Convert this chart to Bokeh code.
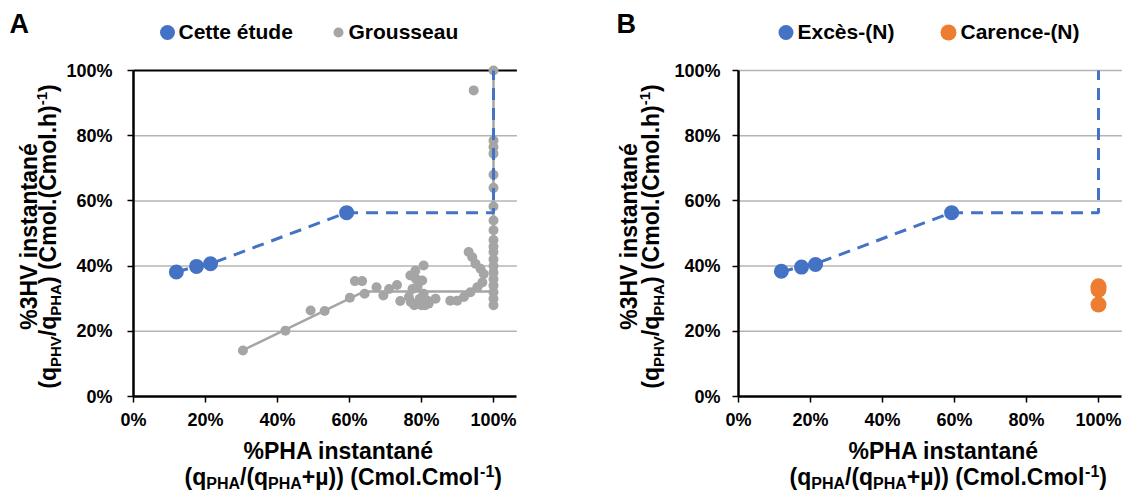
import math
from bokeh.plotting import figure
from bokeh.models import Label, FixedTicker, NumeralTickFormatter, Range1d
from bokeh.layouts import row
from bokeh.embed import file_html
from bokeh.resources import INLINE

FONT = "Liberation Sans"
BLUE = "#4472C4"
ORANGE = "#ED7D31"
GREY = "#A5A5A5"
GRID = "#B4B4B4"

# ---------------- data ----------------
ticks = [0.0, 0.2, 0.4, 0.6, 0.8, 1.0]

etude_x = [0.119, 0.175, 0.214, 0.592]
etude_y = [0.382, 0.399, 0.407, 0.564]

model_x = [0.119, 0.175, 0.214, 0.592, 1.0, 1.0]
model_y = [0.382, 0.399, 0.407, 0.564, 0.564, 1.0]

grous_model_x = [0.30, 0.64, 1.0, 1.0]
grous_model_y = [0.14, 0.322, 0.322, 1.0]

grous_x = [0.304, 0.422, 0.492, 0.531, 0.601, 0.615, 0.635, 0.642, 0.675, 0.694,
           0.710, 0.732, 0.741,
           0.769, 0.783, 0.806, 0.789, 0.802, 0.806, 0.816, 0.839, 0.770, 0.780,
           0.790, 0.800, 0.810, 0.820, 0.765, 0.795, 0.775, 0.785,
           0.880, 0.899, 0.918, 0.936, 0.955, 0.969, 0.931, 0.941, 0.950, 0.964,
           0.973, 0.945,
           1.0, 1.0, 1.0, 1.0, 1.0, 1.0, 1.0, 1.0, 1.0, 1.0,
           1.0, 1.0, 1.0, 1.0, 1.0, 1.0, 1.0, 1.0, 1.0, 1.0]
grous_y = [0.141, 0.202, 0.264, 0.262, 0.303, 0.354, 0.354, 0.315, 0.335, 0.310,
           0.330, 0.342, 0.293,
           0.371, 0.386, 0.402, 0.337, 0.356, 0.315, 0.294, 0.300, 0.290, 0.280,
           0.285, 0.280, 0.280, 0.285, 0.305, 0.300, 0.330, 0.360,
           0.294, 0.294, 0.305, 0.320, 0.335, 0.350, 0.443, 0.427, 0.407, 0.392,
           0.376, 0.939,
           1.0, 0.785, 0.765, 0.745, 0.680, 0.640, 0.583, 0.540, 0.510, 0.480,
           0.460, 0.443, 0.420, 0.400, 0.380, 0.360, 0.340, 0.320, 0.300, 0.280]

exces_x = [0.119, 0.175, 0.214, 0.592]
exces_y = [0.384, 0.397, 0.405, 0.564]

carence_x = [1.0, 1.0, 1.0]
carence_y = [0.338, 0.328, 0.282]

# ---------------- geometry helpers ----------------
PX = 360.0   # px per unit x
PY = 326.0   # px per unit y
BOTTOM = 396.0
H = 494
AREA_END = 1.065   # right end of plot area (beyond the 100% tick)
BLC = 0.36         # baseline correction (fraction of font size)

W = {' ': .278, '%': .889, '(': .333, ')': .333, 'q': .611, '/': .278, '+': .584,
     'µ': .611, 'C': .722, 'm': .889, 'o': .611, 'l': .278, '.': .278, '-': .333,
     '1': .556, 'P': .667, 'H': .722, 'A': .722, 'V': .667, 'h': .611, '3': .556,
     'i': .278, 'n': .611, 's': .556, 't': .333, 'a': .556, 'é': .556}


def tw(s, size):
    return sum(W.get(c, .556) for c in s) * size


XT1 = "%PHA instantané"
XT2 = [("(q", "n"), ("PHA", "sub"), ("/(q", "n"), ("PHA", "sub"),
       ("+µ)) (Cmol.Cmol", "n"), ("-1", "sup"), (")", "n")]
YT1 = "%3HV instantané"
YT2 = [("(q", "n"), ("PHV", "sub"), ("/q", "n"), ("PHA", "sub"),
       (") (Cmol.(Cmol.h)", "n"), ("-1", "sup"), (")", "n")]

N = 23
SUB, SUP = 4, 9


def lab(p, FL, px, py, text, size, angle=0.0, baseline="alphabetic", color="black"):
    if baseline == "alphabetic":
        if angle == 0.0:
            py = py - BLC * size
        else:
            px = px - BLC * size
    p.add_layout(Label(x=(px - FL) / PX, y=(BOTTOM - py) / PY, text=text,
                       text_font=FONT, text_font_size=f"{size}px", text_font_style="bold",
                       text_color=color, text_align="left", text_baseline=baseline,
                       angle=angle))


def hruns(p, FL, runs, x0, base, S):
    x = x0
    for t, k in runs:
        size = N if k == "n" else S
        b = base + (SUB if k == "sub" else (-SUP if k == "sup" else 0))
        lab(p, FL, x, b, t, size)
        x += tw(t, size)


def runs_len(runs, S):
    return sum(tw(t, N if k == "n" else S) for t, k in runs)


def vruns(p, FL, runs, basex, y0, S):
    y = y0
    for t, k in runs:
        size = N if k == "n" else S
        bx = basex + (SUB if k == "sub" else (-SUP if k == "sup" else 0))
        lab(p, FL, bx, y, t, size, angle=math.pi / 2)
        y -= tw(t, size)


def make_fig(canvas_left, canvas_width, FL, top_black, ylab_standoff):
    p = figure(width=canvas_width, height=H, min_border=0,
               x_range=Range1d((canvas_left - FL) / PX, (canvas_left + canvas_width - FL) / PX),
               y_range=Range1d((BOTTOM - H) / PY, BOTTOM / PY),
               output_backend="svg", toolbar_location=None)
    p.outline_line_color = None
    p.grid.visible = False
    gy = ticks[1:] if not top_black else ticks[1:-1]
    p.segment(x0=[0] * len(gy), y0=gy, x1=[AREA_END] * len(gy), y1=gy,
              line_color=GRID, line_width=1.5)
    if top_black:
        p.segment(x0=[0], y0=[1.0], x1=[AREA_END], y1=[1.0], line_color="black", line_width=2)
    for ax in (p.xaxis[0], p.yaxis[0]):
        ax.fixed_location = 0
        ax.ticker = FixedTicker(ticks=ticks)
        ax.formatter = NumeralTickFormatter(format="0%")
        ax.axis_line_color = "black"
        ax.axis_line_width = 2.5
        ax.major_tick_line_color = "black"
        ax.major_tick_line_width = 1.5
        ax.major_tick_in = 0
        ax.major_tick_out = 6
        ax.minor_tick_line_color = None
        ax.major_label_text_font = FONT
        ax.major_label_text_font_size = "18px"
        ax.major_label_text_font_style = "bold"
        ax.major_label_text_color = "black"
    p.yaxis[0].bounds = (0, 1)
    p.xaxis[0].bounds = (0, AREA_END)
    p.xaxis[0].major_label_standoff = 7
    p.yaxis[0].major_label_standoff = ylab_standoff
    return p


def titles(p, FL, x1, x2, yb1, yb2):
    lab(p, FL, x1, 459, XT1, N)
    hruns(p, FL, XT2, x2, 485, 16)
    vruns(p, FL, [(YT1, "n")], yb1, 236 + tw(YT1, N) / 2, 15)
    vruns(p, FL, YT2, yb2, 236 + runs_len(YT2, 15) / 2, 15)


# ---------------- panel A ----------------
FLA = 133.0
pA = make_fig(0, 573, FLA, True, 15)
pA.line(grous_model_x, grous_model_y, line_color=GREY, line_width=2.5)
pA.scatter(grous_x, grous_y, size=10, fill_color=GREY, line_color=None)
pA.line(model_x, model_y, line_color=BLUE, line_width=3, line_dash="12 8")
pA.scatter(etude_x, etude_y, size=15, fill_color=BLUE, line_color=None)

ly = (BOTTOM - 32) / PY
pA.scatter([(167 - FLA) / PX], [ly], size=15, fill_color=BLUE, line_color=None)
pA.scatter([(338 - FLA) / PX], [ly], size=10, fill_color=GREY, line_color=None)
lab(pA, FLA, 178, 31, "Cette étude", 21, baseline="middle")
lab(pA, FLA, 348, 31, "Grousseau", 21, baseline="middle")
lab(pA, FLA, 9, 33, "A", 27)
titles(pA, FLA, 243, 184, 37, 56)

# ---------------- panel B ----------------
FLB = 738.0
pB = make_fig(573, 557, FLB, False, 12)
pB.line(model_x, model_y, line_color=BLUE, line_width=3, line_dash="12 8")
pB.scatter(exces_x, exces_y, size=15, fill_color=BLUE, line_color=None)
pB.scatter(carence_x, carence_y, size=16, fill_color=ORANGE, line_color=None)

pB.scatter([(785.5 - FLB) / PX], [ly], size=15, fill_color=BLUE, line_color=None)
pB.scatter([(948 - FLB) / PX], [ly], size=16, fill_color=ORANGE, line_color=None)
lab(pB, FLB, 797, 31, "Excès-(N)", 21, baseline="middle")
lab(pB, FLB, 960, 31, "Carence-(N)", 21, baseline="middle")
lab(pB, FLB, 616, 33, "B", 27)
titles(pB, FLB, 848, 789, 637, 659)

layout = row(pA, pB)
open("out.html", "w").write(file_html(layout, INLINE))
